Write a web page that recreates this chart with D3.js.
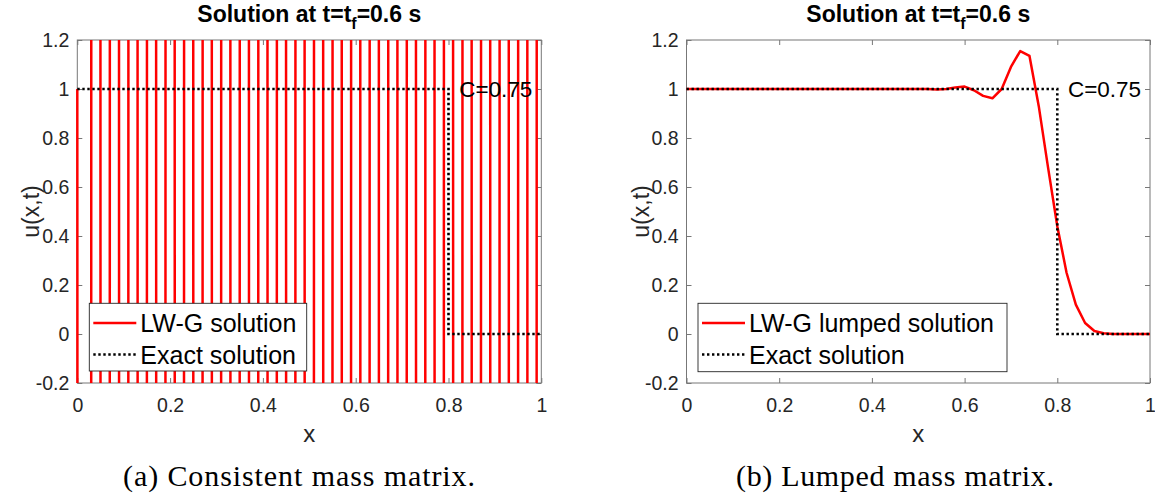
<!DOCTYPE html>
<html><head><meta charset="utf-8">
<script src="https://cdn.jsdelivr.net/npm/d3@7"></script>
<style>body{margin:0;background:#fff}svg{display:block}</style>
</head><body>
<svg id="c" width="1155" height="495"></svg>
<script>
// ---------------- data ----------------
const xGrid = [0,0.02,0.04,0.06,0.08,0.10,0.12,0.14,0.16,0.18,0.20,0.22,0.24,0.26,0.28,0.30,0.32,0.34,0.36,0.38,0.40,0.42,0.44,0.46,0.48,0.50,0.52,0.54,0.56,0.58,0.60,0.62,0.64,0.66,0.68,0.70,0.72,0.74,0.76,0.78,0.80,0.82,0.84,0.86,0.88,0.90,0.92,0.94,0.96,0.98,1.00];
// consistent mass matrix: unstable, values blow far outside the axes
const lwgConsistent = [1,-100,100,-100,100,-100,100,-100,100,-100,100,-100,100,-100,100,-100,100,-100,100,-100,100,-100,100,-100,100,-100,100,-100,100,-100,100,-100,100,-100,100,-100,100,-100,100,-100,100,-100,100,-100,100,-100,100,-100,100,-100,100];
// lumped mass matrix
const lwgLumped = [1,1,1,1,1,1,1,1,1,1,1,1,1,1,1,1,1,1,1,1,1,1,1,1,1,1,1,0.998,1.0,1.006,1.01,0.995,0.972,0.962,1.0,1.09,1.155,1.135,0.93,0.68,0.44,0.25,0.12,0.045,0.012,0.003,0,0,0,0,0];
const xExact = [0,0.8,0.8,1];
const uExact = [1,1,0,0];
const xTicks = [0,0.2,0.4,0.6,0.8,1];
const xTickLabels = ["0","0.2","0.4","0.6","0.8","1"];
const yTicks = [-0.2,0,0.2,0.4,0.6,0.8,1,1.2];
const yTickLabels = ["-0.2","0","0.2","0.4","0.6","0.8","1","1.2"];
const legendLabelsA = ["LW-G solution","Exact solution"];
const legendLabelsB = ["LW-G lumped solution","Exact solution"];
const annotation = "C=0.75";
const annotationX = 0.823, annotationY = 1;
const subcaptions = ["(a) Consistent mass matrix.","(b) Lumped mass matrix."];

// ---------------- drawing ----------------
const svg = d3.select("#c");
const SANS = "'Liberation Sans', Arial, sans-serif";
const AX = "#777";
const TXT = "#262626";
const TOP = 40, BOT = 383;

function panel(id, L, R, series, legendLabels, legBox, ylabX, subX, subLen, subText) {
  const g = svg.append("g");
  const x = d3.scaleLinear().domain([0,1]).range([L,R]);
  const y = d3.scaleLinear().domain([-0.2,1.2]).range([BOT,TOP]);

  g.append("rect").attr("x",L).attr("y",TOP).attr("width",R-L).attr("height",BOT-TOP)
    .attr("fill","none").attr("stroke",AX).attr("stroke-width",1);

  const style = sel => {
    sel.select(".domain").remove();
    sel.selectAll(".tick line").attr("stroke",AX).attr("stroke-width",1);
    sel.selectAll(".tick text").attr("fill",TXT).style("font-family",SANS).style("font-size","19.5px");
  };
  g.append("g").attr("transform",`translate(0,${BOT})`)
    .call(d3.axisBottom(x).tickValues(xTicks).tickFormat((d,i)=>xTickLabels[i]).tickSizeInner(-5).tickSizeOuter(0).tickPadding(15)).call(style);
  g.append("g").attr("transform",`translate(0,${TOP})`)
    .call(d3.axisTop(x).tickValues(xTicks).tickFormat("").tickSizeInner(-5).tickSizeOuter(0)).call(style);
  g.append("g").attr("transform",`translate(${L},0)`)
    .call(d3.axisLeft(y).tickValues(yTicks).tickFormat((d,i)=>yTickLabels[i]).tickSizeInner(-5).tickSizeOuter(0).tickPadding(8)).call(style);
  g.append("g").attr("transform",`translate(${R},0)`)
    .call(d3.axisRight(y).tickValues(yTicks).tickFormat("").tickSizeInner(-5).tickSizeOuter(0)).call(style);

  svg.append("defs").append("clipPath").attr("id",id)
    .append("rect").attr("x",L-1.5).attr("y",TOP).attr("width",R-L+3).attr("height",BOT-TOP);

  const line = d3.line().x(d=>x(d[0])).y(d=>y(d[1]));
  const data = g.append("g").attr("clip-path",`url(#${id})`);
  data.append("path").datum(xGrid.map((v,i)=>[v,series[i]]))
    .attr("d",line).attr("fill","none").attr("stroke","#ff0000").attr("stroke-width",2.5).attr("stroke-linejoin","round");
  data.append("path").datum(xExact.map((v,i)=>[v,uExact[i]]))
    .attr("d",line).attr("fill","none").attr("stroke","#000").attr("stroke-width",2.6).attr("stroke-dasharray","2.4,2.6");

  g.append("text").attr("x",x(annotationX)).attr("y",y(annotationY)).attr("dy","0.36em")
    .style("font-family",SANS).style("font-size","22.5px").attr("fill","#000").text(annotation);

  const [lx0,ly0,lx1,ly1] = legBox;
  const lg = g.append("g");
  lg.append("rect").attr("x",lx0).attr("y",ly0).attr("width",lx1-lx0).attr("height",ly1-ly0)
    .attr("fill","#fff").attr("stroke",TXT).attr("stroke-width",0.9);
  const rows = [323, 354.5];
  lg.append("line").attr("x1",lx0+4).attr("x2",lx0+47).attr("y1",rows[0]).attr("y2",rows[0])
    .attr("stroke","#ff0000").attr("stroke-width",2.5);
  lg.append("line").attr("x1",lx0+4).attr("x2",lx0+47).attr("y1",rows[1]).attr("y2",rows[1])
    .attr("stroke","#000").attr("stroke-width",2.6).attr("stroke-dasharray","2.4,2.6");
  legendLabels.forEach((t,i)=>{
    lg.append("text").attr("x",lx0+51).attr("y",rows[i]).attr("dy","0.36em")
      .style("font-family",SANS).style("font-size","25px").attr("fill","#000").text(t);
  });

  const cx = (L+R)/2;
  const title = g.append("text").attr("x",cx).attr("y",22).attr("text-anchor","middle")
    .style("font-family",SANS).style("font-size","23px").style("font-weight","bold").attr("fill","#000");
  title.append("tspan").text("Solution at t=t");
  title.append("tspan").attr("dy",7).style("font-size","16px").text("f");
  title.append("tspan").attr("dy",-7).text("=0.6 s");

  g.append("text").attr("x",cx).attr("y",442).attr("text-anchor","middle")
    .style("font-family",SANS).style("font-size","24px").attr("fill",TXT).text("x");
  g.append("text").attr("transform",`translate(${ylabX},${(TOP+BOT)/2}) rotate(-90)`)
    .attr("text-anchor","middle").attr("dy","0.36em")
    .style("font-family",SANS).style("font-size","23px").attr("fill",TXT).text("u(x,t)");

  svg.append("text").attr("x",subX).attr("y",486).attr("text-anchor","middle")
    .attr("textLength",subLen).attr("lengthAdjust","spacing")
    .style("font-family","'Liberation Serif','Times New Roman',serif").style("font-size","30px").attr("fill","#000")
    .text(subText);
}

panel("clipA", 77.3, 541.3, lwgConsistent, legendLabelsA, [89.3,303.3,306.7,371], 31, 299, 352, subcaptions[0]);
panel("clipB", 686.5, 1150, lwgLumped, legendLabelsB, [698,303.3,1007,371.7], 641, 895, 318, subcaptions[1]);
</script>
</body></html>
